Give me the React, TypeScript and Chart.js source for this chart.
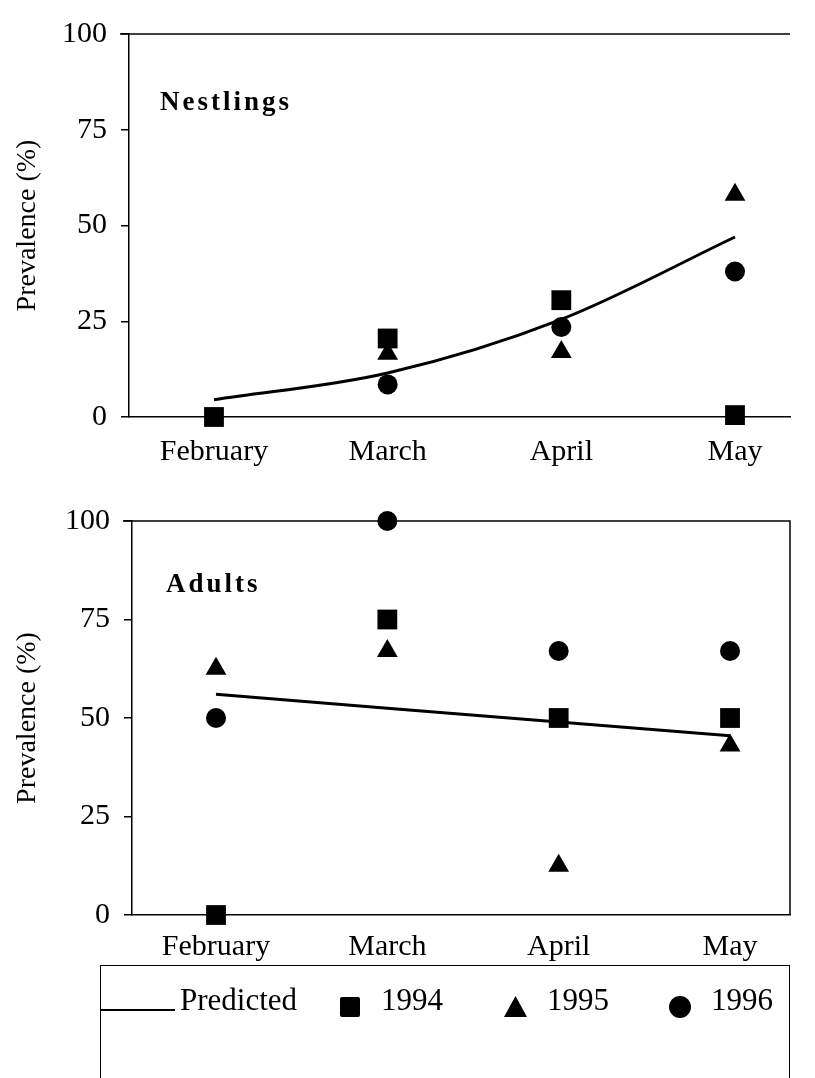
import React, { useEffect, useRef } from 'react';
import { Chart, registerables } from 'chart.js';

Chart.register(...registerables);

const months = ['February', 'March', 'April', 'May'];
const yTickValues = [0, 25, 50, 75, 100];
const yTitle = 'Prevalence (%)';

const nestlingsPredicted = [4.5, 11.5, 25.5, 47];
const nestlings1994 = [0, 20.5, 30.5, 0.5];
const nestlings1995 = [null, 16.5, 17, 58];
const nestlings1996 = [null, 8.5, 23.5, 38];

const adultsPredicted = [56, 52.5, 49, 45.5];
const adults1994 = [0, 75, 50, 50];
const adults1995 = [62.5, 67, 12.5, 43];
const adults1996 = [50, 100, 67, 67];

const legendLabels = ['Predicted', '1994', '1995', '1996'];

const SERIF = '"Liberation Serif", "Times New Roman", serif';

type Area = { left: number; top: number; right: number; bottom: number };
type PanelCfg = {
  title: string;
  width: number;
  height: number;
  area: Area;
  xMin: number;
  xMax: number;
  xPad: number;
  predicted: (number | null)[];
  s94: (number | null)[];
  s95: (number | null)[];
  s96: (number | null)[];
  rightBorder: boolean;
  titlePos: { x: number; y: number };
};

function makeChart(canvas: HTMLCanvasElement, cfg: PanelCfg) {
  const toPts = (arr: (number | null)[]) => arr.map((v, i) => ({ x: i, y: v }));
  const decor = {
    id: 'panelDecor',
    afterDraw(chart: any) {
      const { ctx, chartArea: a } = chart;
      ctx.save();
      ctx.strokeStyle = '#000';
      ctx.lineWidth = 1.5;
      ctx.beginPath();
      ctx.moveTo(a.left - 9, a.top);
      ctx.lineTo(a.right, a.top);
      if (cfg.rightBorder) ctx.lineTo(a.right, a.bottom);
      ctx.stroke();
      ctx.fillStyle = '#000';
      ctx.font = `bold 27px ${SERIF}`;
      ctx.letterSpacing = '3px';
      ctx.textBaseline = 'alphabetic';
      ctx.textAlign = 'left';
      ctx.fillText(cfg.title, cfg.titlePos.x, cfg.titlePos.y);
      ctx.restore();
    },
  };
  const pointDs = (label: string, arr: (number | null)[], style: string, r: number) => ({
    label,
    data: toPts(arr),
    showLine: false,
    pointStyle: style,
    pointRadius: r,
    pointHoverRadius: r,
    backgroundColor: '#000',
    borderColor: '#000',
    borderWidth: 0,
    clip: false,
  });
  return new Chart(canvas, {
    type: 'scatter',
    data: {
      datasets: [
        pointDs('1994', cfg.s94, 'rect', 14),
        pointDs('1995', cfg.s95, 'triangle', 12),
        pointDs('1996', cfg.s96, 'circle', 10),
        {
          label: 'Predicted',
          data: toPts(cfg.predicted),
          showLine: true,
          borderColor: '#000',
          borderWidth: 3,
          pointRadius: 0,
          pointHoverRadius: 0,
          cubicInterpolationMode: 'monotone',
          fill: false,
          clip: false,
        } as any,
      ],
    },
    options: {
      animation: false,
      responsive: false,
      events: [],
      layout: {
        autoPadding: false,
        padding: { top: cfg.area.top, right: cfg.width - cfg.area.right, left: 0, bottom: 0 },
      },
      plugins: { legend: { display: false }, tooltip: { enabled: false } },
      scales: {
        x: {
          type: 'linear',
          min: cfg.xMin,
          max: cfg.xMax,
          afterBuildTicks: (s: any) => {
            s.ticks = months.map((_, i) => ({ value: i }));
          },
          ticks: {
            callback: (v: any) => months[v] ?? '',
            color: '#000',
            font: { family: SERIF, size: 30 },
            padding: cfg.xPad,
            maxRotation: 0,
            autoSkip: false,
          },
          grid: { drawOnChartArea: false, drawTicks: false },
          border: { display: true, color: '#000', width: 1.5 },
          afterFit: (s: any) => {
            s.height = cfg.height - cfg.area.bottom;
            s.paddingLeft = 0;
            s.paddingRight = 0;
            s.paddingTop = 0;
            s.paddingBottom = 0;
          },
        },
        y: {
          type: 'linear',
          min: 0,
          max: 100,
          afterBuildTicks: (s: any) => {
            s.ticks = yTickValues.map((v) => ({ value: v }));
          },
          ticks: {
            color: '#000',
            font: { family: SERIF, size: 30 },
            padding: 14,
            labelOffset: 0,
          },
          grid: { drawOnChartArea: false, drawTicks: true, tickLength: 8, color: '#000', lineWidth: 1.5 },
          border: { display: true, color: '#000', width: 1.5 },
          title: {
            display: true,
            text: yTitle,
            color: '#000',
            font: { family: SERIF, size: 28 },
            padding: { top: 11, bottom: 0 },
          },
          afterFit: (s: any) => {
            s.width = cfg.area.left;
            s.paddingLeft = 0;
            s.paddingRight = 0;
            s.paddingTop = 0;
            s.paddingBottom = 0;
          },
        },
      },
    } as any,
    plugins: [decor],
  });
}

const TOP_H = 478;
const BOT_TOP = 478;
const BOT_H = 500;

const topCfg: PanelCfg = {
  title: 'Nestlings',
  width: 815,
  height: TOP_H,
  area: { left: 129, top: 34, right: 790, bottom: 417 },
  xMin: -0.4894,
  xMax: 3.3167,
  xPad: 17,
  predicted: nestlingsPredicted,
  s94: nestlings1994,
  s95: nestlings1995,
  s96: nestlings1996,
  rightBorder: false,
  titlePos: { x: 160, y: 110 },
};

const botCfg: PanelCfg = {
  title: 'Adults',
  width: 815,
  height: BOT_H,
  area: { left: 132, top: 521 - BOT_TOP, right: 790, bottom: 915 - BOT_TOP },
  xMin: -0.4903,
  xMax: 3.35,
  xPad: 14,
  predicted: adultsPredicted,
  s94: adults1994,
  s95: adults1995,
  s96: adults1996,
  rightBorder: true,
  titlePos: { x: 166, y: 592 - BOT_TOP },
};

export default function App() {
  const topRef = useRef<HTMLCanvasElement>(null);
  const botRef = useRef<HTMLCanvasElement>(null);

  useEffect(() => {
    const c1 = makeChart(topRef.current!, topCfg);
    const c2 = makeChart(botRef.current!, botCfg);
    return () => {
      c1.destroy();
      c2.destroy();
    };
  }, []);

  const textStyle: React.CSSProperties = {
    position: 'absolute',
    top: 985,
    height: 30,
    lineHeight: '30px',
    fontFamily: SERIF,
    fontSize: 31,
    color: '#000',
    whiteSpace: 'nowrap',
  };

  return (
    <div style={{ position: 'absolute', left: 0, top: 0, width: 815, height: 1078, background: '#fff', overflow: 'hidden' }}>
      <canvas ref={topRef} width={815} height={TOP_H} style={{ position: 'absolute', left: 0, top: 0, width: 815, height: TOP_H }} />
      <canvas ref={botRef} width={815} height={BOT_H} style={{ position: 'absolute', left: 0, top: BOT_TOP, width: 815, height: BOT_H }} />
      <div
        style={{
          position: 'absolute',
          left: 100,
          top: 965,
          width: 690,
          height: 120,
          boxSizing: 'border-box',
          borderTop: '1.5px solid #000',
          borderLeft: '1.5px solid #000',
          borderRight: '1.5px solid #000',
        }}
      />
      <div style={{ position: 'absolute', left: 100, top: 1009, width: 75, height: 2, background: '#000' }} />
      <div style={{ ...textStyle, left: 180 }}>{legendLabels[0]}</div>
      <div style={{ position: 'absolute', left: 340, top: 997, width: 20, height: 20, background: '#000', borderRadius: 2 }} />
      <div style={{ ...textStyle, left: 381 }}>{legendLabels[1]}</div>
      <div style={{ position: 'absolute', left: 504, top: 996, width: 23, height: 21, background: '#000', clipPath: 'polygon(50% 0, 100% 100%, 0 100%)' }} />
      <div style={{ ...textStyle, left: 547 }}>{legendLabels[2]}</div>
      <div style={{ position: 'absolute', left: 669, top: 996, width: 22, height: 22, background: '#000', borderRadius: '50%' }} />
      <div style={{ ...textStyle, left: 711 }}>{legendLabels[3]}</div>
    </div>
  );
}
